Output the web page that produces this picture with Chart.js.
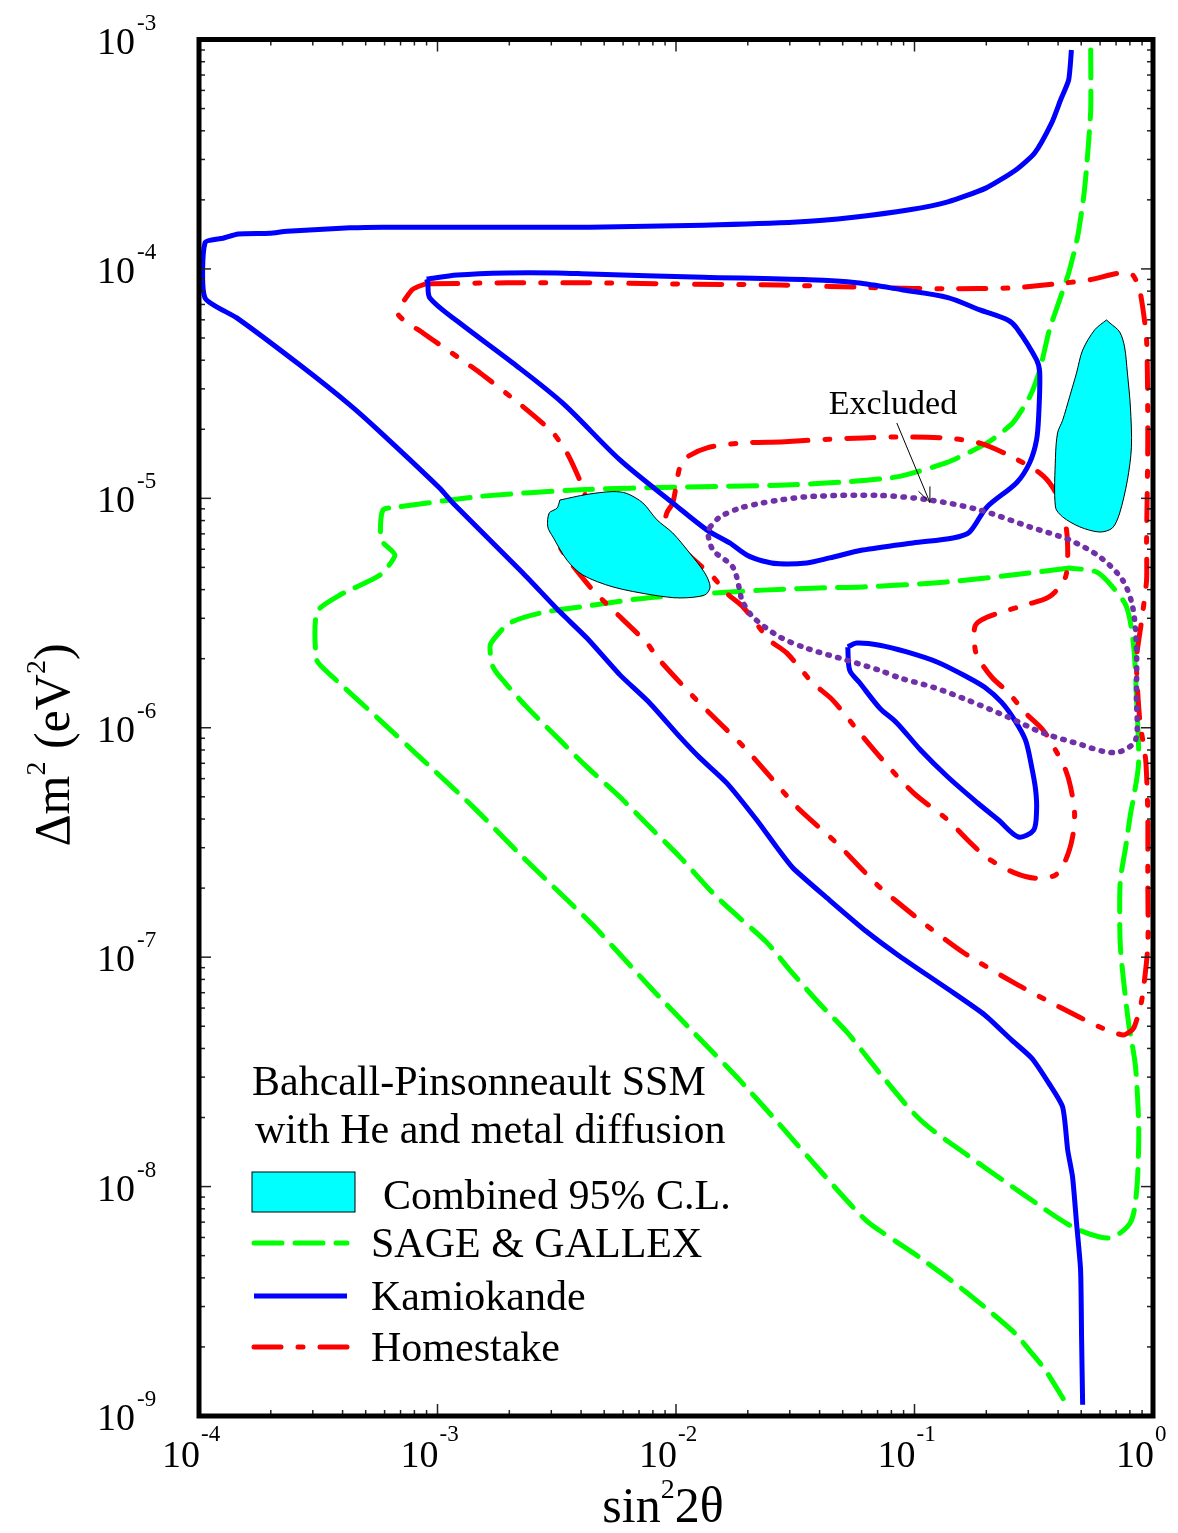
<!DOCTYPE html>
<html>
<head>
<meta charset="utf-8">
<title>MSW solutions</title>
<script src="https://cdn.jsdelivr.net/npm/chart.js@4.4.0/dist/chart.umd.min.js"></script>
<style>
  html, body { margin: 0; padding: 0; background: #fff; }
  canvas { display: block; }
</style>
</head>
<body>
<canvas id="chart" width="1178" height="1533"></canvas>
<script>
// axis decades and their exponent labels
var xDecades = [1e-4, 1e-3, 1e-2, 1e-1, 1];
var xExp = ['-4', '-3', '-2', '-1', '0'];
var yDecades = [1e-3, 1e-4, 1e-5, 1e-6, 1e-7, 1e-8, 1e-9];
var yExp = ['-3', '-4', '-5', '-6', '-7', '-8', '-9'];

// Kamiokande (solid blue)
var kamOuterX = [0.455,0.443,0.41,0.376,0.319,0.266,0.199,0.138,0.0953,0.0556,0.0321,0.013,0.00435,0.00269,5.9e-4,4.3e-4,2.34e-4,1.98e-4,1.46e-4,1.26e-4,1.06e-4,1.06e-4,1.44e-4,2.65e-4,4.3e-4,5.74e-4,1.02e-3,1.16e-3,2.28e-3,3.26e-3,4.23e-3,5.82e-3,7.77e-3,1.04e-2,1.26e-2,1.63e-2,2.18e-2,2.64e-2,3.09e-2,4.41e-2,6.31e-2,8.66e-2,0.14,0.197,0.255,0.31,0.365,0.418,0.439,0.46,0.478,0.497,0.502,0.507];
var kamOuterY = [9.0e-4,6.67e-4,5.46e-4,4.33e-4,3.2e-4,2.7e-4,2.25e-4,1.96e-4,1.81e-4,1.68e-4,1.6e-4,1.55e-4,1.52e-4,1.52e-4,1.52e-4,1.51e-4,1.46e-4,1.43e-4,1.42e-4,1.36e-4,1.3e-4,7.47e-5,6.12e-5,3.81e-5,2.55e-5,1.95e-5,1.11e-5,9.55e-6,4.73e-6,3.2e-6,2.46e-6,1.7e-6,1.28e-6,9.1e-7,7.39e-7,5.75e-7,3.96e-7,3.02e-7,2.45e-7,1.77e-7,1.29e-7,1.01e-7,7.19e-8,5.6e-8,4.36e-8,3.63e-8,2.83e-8,2.22e-8,1.44e-8,1.1e-8,6.93e-9,4.33e-9,2.14e-9,1.12e-9];
var kamInnerX = [9.0e-4,1.21e-3,1.95e-3,3.17e-3,4.35e-3,1.3e-2,3.6e-2,5.72e-2,8.94e-2,0.138,0.188,0.246,0.268,0.325,0.335,0.332,0.325,0.304,0.268,0.201,0.17,0.145,9.84e-2,6.06e-2,4.41e-2,3.53e-2,2.72e-2,2.31e-2,1.98e-2,1.68e-2,1.35e-2,9.69e-3,5.82e-3,3.35e-3,2.07e-3,1.24e-3,9.29e-4,9.1e-4];
var kamInnerY = [9.03e-5,9.4e-5,9.6e-5,9.6e-5,9.5e-5,9.2e-5,8.96e-5,8.7e-5,8.1e-5,7.5e-5,6.63e-5,5.99e-5,5.53e-5,4.01e-5,3.52e-5,2.35e-5,1.8e-5,1.43e-5,1.17e-5,9.15e-6,7.13e-6,6.72e-6,6.39e-6,5.95e-6,5.5e-6,5.23e-6,5.18e-6,5.33e-6,5.66e-6,6.39e-6,7.27e-6,9.55e-6,1.47e-5,2.6e-5,3.89e-5,5.81e-5,7.47e-5,8.77e-5];
var kamSmallX = [5.25e-2,5.72e-2,7.14e-2,9.28e-2,0.125,0.167,0.197,0.232,0.263,0.292,0.31,0.322,0.325,0.316,0.273,0.225,0.184,0.138,0.106,8.43e-2,7.14e-2,5.89e-2,5.35e-2];
var kamSmallY = [2.25e-6,2.34e-6,2.29e-6,2.14e-6,1.93e-6,1.66e-6,1.5e-6,1.29e-6,1.08e-6,8.83e-7,6.75e-7,5.36e-7,4.38e-7,3.58e-7,3.34e-7,3.96e-7,4.7e-7,6.1e-7,8.0e-7,1.05e-6,1.22e-6,1.57e-6,1.78e-6];

// Combined 95% C.L. (cyan regions)
var clAX = [3.26e-3,4.23e-3,5.44e-3,6.22e-3,7.26e-3,8.32e-3,9.69e-3,1.14e-2,1.32e-2,1.39e-2,1.32e-2,1.04e-2,7.99e-3,5.44e-3,4.07e-3,3.49e-3,3.05e-3,2.9e-3,2.94e-3,3.17e-3];
var clAY = [9.83e-6,1.04e-5,1.07e-5,1.05e-5,9.55e-6,8.06e-6,7.06e-6,5.78e-6,4.73e-6,4.11e-6,3.79e-6,3.68e-6,3.79e-6,4.11e-6,4.63e-6,5.38e-6,6.78e-6,7.51e-6,8.63e-6,9.06e-6];
var clBX = [0.638,0.57,0.507,0.478,0.447,0.418,0.398,0.39,0.39,0.418,0.493,0.598,0.676,0.725,0.781,0.812,0.804,0.781,0.76,0.725,0.66];
var clBY = [5.99e-5,5.43e-5,4.43e-5,3.52e-5,2.77e-5,2.19e-5,1.93e-5,1.51e-5,9.15e-6,8.3e-6,7.51e-6,7.13e-6,7.43e-6,8.63e-6,1.2e-5,1.67e-5,2.5e-5,3.52e-5,4.57e-5,5.31e-5,5.81e-5];

// Excluded region (dotted purple)
var exclX = [1.39e-2,1.53e-2,1.85e-2,2.31e-2,2.72e-2,3.74e-2,7.14e-2,0.116,0.188,0.304,0.447,0.598,0.746,0.822,0.852,0.852,0.845,0.725,0.616,0.507,0.345,0.248,0.167,0.12,8.66e-2,7.14e-2,5.2e-2,3.53e-2,2.72e-2,2.1e-2,1.89e-2,1.85e-2,1.73e-2,1.43e-2,1.36e-2];
var exclY = [7.51e-6,8.3e-6,9.06e-6,9.55e-6,9.83e-6,1.02e-5,1.03e-5,9.83e-6,8.89e-6,7.51e-6,6.58e-6,5.56e-6,4.4e-6,3.36e-6,2.25e-6,1.36e-6,8.83e-7,7.85e-7,7.9e-7,8.4e-7,9.5e-7,1.11e-6,1.32e-6,1.5e-6,1.65e-6,1.78e-6,1.97e-6,2.22e-6,2.49e-6,3.04e-6,3.6e-6,3.98e-6,5.02e-6,5.95e-6,7.06e-6];

// SAGE & GALLEX (dashed green)
var sageOuterX = [0.548,0.548,0.527,0.512,0.483,0.443,0.406,0.368,0.335,0.304,0.258,0.201,0.136,8.43e-2,5.2e-2,2.72e-2,1.04e-2,3.95e-3,1.51e-3,6.76e-4,5.9e-4,5.8e-4,6.63e-4,5.74e-4,3.9e-4,3.12e-4,3.12e-4,3.65e-4,5.57e-4,8.69e-4,1.41e-3,2.28e-3,2.96e-3,4.48e-3,7.99e-3,1.18e-2,1.85e-2,2.64e-2,4.12e-2,6.31e-2,9.9e-2,0.142,0.197,0.263,0.31,0.355,0.431];
var sageOuterY = [9.0e-4,4.93e-4,2.78e-4,2.06e-4,1.38e-4,9.6e-5,7.33e-5,5.43e-5,3.62e-5,2.77e-5,2.13e-5,1.74e-5,1.43e-5,1.24e-5,1.18e-5,1.14e-5,1.12e-5,1.09e-5,1.02e-5,9.15e-6,8.89e-6,6.58e-6,5.66e-6,4.63e-6,3.79e-6,3.2e-6,1.97e-6,1.66e-6,1.11e-6,7.23e-7,4.52e-7,2.73e-7,2.1e-7,1.38e-7,7.19e-8,4.72e-8,2.91e-8,1.93e-8,1.14e-8,7.07e-9,5.13e-9,3.91e-9,2.98e-9,2.3e-9,1.88e-9,1.58e-9,1.14e-9];
var sageInnerX = [0.447,0.304,0.136,6.06e-2,3.74e-2,2.31e-2,1.43e-2,7.56e-3,3.95e-3,2.69e-3,2.01e-3,1.71e-3,1.66e-3,1.71e-3,1.92e-3,2.37e-3,3.26e-3,4.23e-3,5.82e-3,7.77e-3,1.04e-2,1.43e-2,1.85e-2,2.4e-2,3.0e-2,4.01e-2,5.2e-2,7.14e-2,0.106,0.162,0.281,0.46,0.598,0.683,0.806,0.852,0.87,0.87,0.845,0.812,0.79,0.752,0.73,0.725,0.73,0.768,0.806,0.83,0.87,0.852,0.83,0.775,0.676,0.58];
var sageInnerY = [4.97e-6,4.73e-6,4.32e-6,4.11e-6,4.06e-6,3.98e-6,3.86e-6,3.68e-6,3.36e-6,3.16e-6,2.86e-6,2.41e-6,2.25e-6,1.84e-6,1.57e-6,1.23e-6,8.83e-7,6.75e-7,4.99e-7,3.69e-7,2.73e-7,1.9e-7,1.48e-7,1.16e-7,8.79e-8,6.25e-8,4.72e-8,3.13e-8,1.95e-8,1.4e-8,9.37e-9,6.67e-9,6.03e-9,6.03e-9,7.0e-9,9.37e-9,1.44e-8,1.95e-8,3.32e-8,4.36e-8,5.16e-8,7.96e-8,1.11e-7,1.56e-7,2.17e-7,3.02e-7,4.25e-7,4.99e-7,7.02e-7,1.36e-6,2.25e-6,3.36e-6,4.11e-6,4.77e-6];

// Homestake (dash-dot red)
var homeOuterX = [8.87e-4,7.82e-4,6.83e-4,8.69e-4,1.51e-3,2.37e-3,3.05e-3,3.49e-3,3.95e-3,4.15e-3,3.52e-3,3.1e-3,3.49e-3,4.48e-3,5.44e-3,7.56e-3,8.32e-3,1.22e-2,1.98e-2,3.21e-2,4.72e-2,7.14e-2,0.109,0.162,0.263,0.406,0.598,0.752,0.83,0.897,0.951,0.951,0.951,0.932,0.88,0.852,0.897,0.94,0.94,0.951,0.94,0.88,0.822,0.725,0.543,0.434,0.258,0.136,7.14e-2,2.72e-2,8.97e-3,4.35e-3,1.95e-3];
var homeOuterY = [8.6e-5,8.1e-5,6.36e-5,5.26e-5,3.52e-5,2.43e-5,1.93e-5,1.58e-5,1.2e-5,1.03e-5,8.44e-6,6.92e-6,5.5e-6,3.98e-6,3.26e-6,2.34e-6,2.03e-6,1.32e-6,8.0e-7,4.52e-7,3.14e-7,2.02e-7,1.41e-7,1.04e-7,7.7e-8,6.06e-8,4.96e-8,4.58e-8,4.91e-8,6.49e-8,1.11e-7,2.17e-7,4.25e-7,7.23e-7,1.08e-6,1.97e-6,2.95e-6,4.4e-6,6.58e-6,1.8e-5,4.9e-5,8.1e-5,9.4e-5,9.6e-5,8.96e-5,8.7e-5,8.27e-5,8.19e-5,8.27e-5,8.51e-5,8.6e-5,8.7e-5,8.7e-5];
var homeInnerX = [2.72e-2,1.85e-2,1.35e-2,1.11e-2,1.04e-2,1.01e-2,9.69e-3,9.15e-3,8.97e-3,9.41e-3,1.14e-2,1.43e-2,1.63e-2,1.91e-2,2.47e-2,2.91e-2,3.74e-2,4.54e-2,5.89e-2,7.36e-2,9.9e-2,0.138,0.167,0.203,0.263,0.322,0.39,0.43,0.46,0.469,0.451,0.43,0.39,0.345,0.292,0.248,0.211,0.184,0.179,0.179,0.191,0.225,0.292,0.365,0.418,0.434,0.439,0.434,0.414,0.379,0.335,0.258,0.188,0.136,8.43e-2,4.41e-2];
var homeInnerY = [1.76e-5,1.74e-5,1.66e-5,1.51e-5,1.37e-5,1.2e-5,9.55e-6,8.63e-6,7.51e-6,6.78e-6,5.61e-6,4.54e-6,3.86e-6,3.36e-6,2.41e-6,2.12e-6,1.57e-6,1.32e-6,9.5e-7,7.23e-7,5.2e-7,3.96e-7,3.24e-7,2.7e-7,2.33e-7,2.21e-7,2.28e-7,2.65e-7,3.34e-7,4.25e-7,5.53e-7,6.55e-7,8.0e-7,9.8e-7,1.16e-6,1.42e-6,1.66e-6,2.03e-6,2.25e-6,2.75e-6,2.95e-6,3.16e-6,3.43e-6,3.71e-6,4.27e-6,4.73e-6,5.78e-6,7.27e-6,9.15e-6,1.12e-5,1.29e-5,1.51e-5,1.74e-5,1.83e-5,1.85e-5,1.81e-5];

var FONT = '"Liberation Serif", "Times New Roman", serif';
var BLUE = '#0000ff', GREEN = '#00ff00', RED = '#ff0000', CYAN = '#00ffff', PURPLE = '#7030a8';
var greenDash = [28, 13];
var redDash = [27, 17, 5, 17];

function zip(xs, ys, closed) {
    var out = xs.map(function (x, i) { return {x: x, y: ys[i]}; });
    if (closed) out.push({x: xs[0], y: ys[0]});
    return out;
}

function curve(data, color, dash, extra) {
    var ds = {
        data: data, showLine: true, borderColor: color, borderWidth: 5,
        borderDash: dash || [], borderCapStyle: dash ? 'round' : 'butt',
        borderJoinStyle: 'round', pointRadius: 0, tension: 0.2, fill: false
    };
    for (var k in extra) ds[k] = extra[k];
    return ds;
}

// superscript text runs: [{t, size, up}]
function runWidth(c, parts) {
    var w = 0;
    parts.forEach(function (p) { c.font = p.size + 'px ' + FONT; w += c.measureText(p.t).width; });
    return w;
}
function drawRuns(c, parts, x, y) {
    var cx = x;
    c.textAlign = 'left';
    parts.forEach(function (p) {
        c.font = p.size + 'px ' + FONT;
        c.fillText(p.t, cx, y - (p.up || 0));
        cx += c.measureText(p.t).width;
    });
}

var decor = {
    id: 'decor',
    afterDraw: function (chart) {
        var c = chart.ctx, a = chart.chartArea;
        var xs = chart.scales.x, ys = chart.scales.y;
        c.save();

        // inward ticks on all four sides
        c.strokeStyle = '#222';
        c.lineWidth = 1.5;
        function seg(x1, y1, x2, y2) { c.beginPath(); c.moveTo(x1, y1); c.lineTo(x2, y2); c.stroke(); }
        for (var d = -4; d < 0; d++) {
            for (var k = 1; k < 10; k++) {
                var px = xs.getPixelForValue(k * Math.pow(10, d));
                var len = k === 1 ? 12 : 6;
                seg(px, a.bottom, px, a.bottom - len);
                seg(px, a.top, px, a.top + len);
            }
        }
        for (var e = -9; e < -3; e++) {
            for (var m = 1; m < 10; m++) {
                var py = ys.getPixelForValue(m * Math.pow(10, e));
                var l2 = m === 1 ? 12 : 6;
                seg(a.left, py, a.left + l2, py);
                seg(a.right, py, a.right - l2, py);
            }
        }

        // frame
        c.strokeStyle = '#000';
        c.lineWidth = 5;
        c.strokeRect(a.left, a.top, a.right - a.left, a.bottom - a.top);

        // tick labels
        c.fillStyle = '#000';
        c.textBaseline = 'alphabetic';
        xDecades.forEach(function (v, i) {
            var px = xs.getPixelForValue(v);
            c.font = '38px ' + FONT;
            c.textAlign = 'right';
            c.fillText('10', px + 1, a.bottom + 51);
            c.font = '23px ' + FONT;
            c.textAlign = 'left';
            c.fillText(xExp[i], px + 2, a.bottom + 25);
        });
        yDecades.forEach(function (v, i) {
            var py = ys.getPixelForValue(v);
            c.font = '38px ' + FONT;
            c.textAlign = 'right';
            c.fillText('10', a.left - 64, py + 14);
            c.font = '23px ' + FONT;
            c.textAlign = 'left';
            c.fillText(yExp[i], a.left - 62, py - 10);
        });

        // axis titles
        var xt = [{t: 'sin', size: 50}, {t: '2', size: 28, up: 24}, {t: '2\u03b8', size: 50}];
        drawRuns(c, xt, 663 - runWidth(c, xt) / 2, a.bottom + 106);
        var yt = [{t: '\u0394m', size: 50}, {t: '2', size: 28, up: 24}, {t: ' (eV', size: 50},
                  {t: '2', size: 28, up: 24}, {t: ')', size: 50}];
        c.save();
        c.translate(69, 745);
        c.rotate(-Math.PI / 2);
        drawRuns(c, yt, -runWidth(c, yt) / 2, 0);
        c.restore();

        // "Excluded" annotation with arrow
        c.font = '34px ' + FONT;
        c.textAlign = 'left';
        c.fillText('Excluded', xs.getPixelForValue(4.37e-2), ys.getPixelForValue(2.33e-5));
        var tx = xs.getPixelForValue(8.43e-2), ty = ys.getPixelForValue(2.13e-5);
        var hx = xs.getPixelForValue(0.116), hy = ys.getPixelForValue(9.6e-6);
        c.strokeStyle = '#000';
        c.lineWidth = 1;
        seg(tx, ty, hx, hy);
        var ang = Math.atan2(hy - ty, hx - tx);
        seg(hx, hy, hx - 16 * Math.cos(ang - 0.4), hy - 16 * Math.sin(ang - 0.4));
        seg(hx, hy, hx - 16 * Math.cos(ang + 0.4), hy - 16 * Math.sin(ang + 0.4));

        // legend block
        var L = a.left;
        c.fillStyle = '#000';
        c.font = '42px ' + FONT;
        c.fillText('Bahcall-Pinsonneault SSM', L + 53, 1095);
        c.fillText('with He and metal diffusion', L + 56, 1143);
        c.fillStyle = CYAN;
        c.fillRect(L + 53, 1172, 103, 40);
        c.strokeStyle = '#000';
        c.lineWidth = 1;
        c.strokeRect(L + 53, 1172, 103, 40);
        c.fillStyle = '#000';
        c.fillText('Combined 95% C.L.', L + 184, 1209);
        var items = [
            {label: 'SAGE & GALLEX', color: GREEN, dash: greenDash, y: 1243},
            {label: 'Kamiokande', color: BLUE, dash: [], y: 1296},
            {label: 'Homestake', color: RED, dash: redDash, y: 1347}
        ];
        items.forEach(function (it) {
            c.strokeStyle = it.color;
            c.lineWidth = 5;
            c.lineCap = it.dash.length ? 'round' : 'butt';
            c.setLineDash(it.dash);
            seg(L + 55, it.y, L + 148, it.y);
            c.setLineDash([]);
            c.fillStyle = '#000';
            c.fillText(it.label, L + 172, it.y + 14);
        });
        c.restore();
    }
};

var ctx = document.getElementById('chart').getContext('2d');
var chart = new Chart(ctx, {
    type: 'scatter',
    data: {
        datasets: [
            {data: zip(clAX, clAY, true), showLine: true, fill: 'shape', backgroundColor: CYAN,
             borderColor: '#000', borderWidth: 1, pointRadius: 0, tension: 0.3},
            {data: zip(clBX, clBY, true), showLine: true, fill: 'shape', backgroundColor: CYAN,
             borderColor: '#000', borderWidth: 1, pointRadius: 0, tension: 0.3},
            curve(zip(exclX, exclY, true), PURPLE, [1.5, 8.5], {tension: 0.3, borderWidth: 5.5}),
            curve(zip(kamOuterX, kamOuterY, false), BLUE, null),
            curve(zip(kamInnerX, kamInnerY, true), BLUE, null, {tension: 0.3}),
            curve(zip(kamSmallX, kamSmallY, true), BLUE, null, {tension: 0.3}),
            curve(zip(homeOuterX, homeOuterY, true), RED, redDash),
            curve(zip(homeInnerX, homeInnerY, true), RED, redDash, {tension: 0.3}),
            curve(zip(sageOuterX, sageOuterY, false), GREEN, greenDash),
            curve(zip(sageInnerX, sageInnerY, true), GREEN, greenDash, {tension: 0.3})
        ]
    },
    options: {
        responsive: false,
        animation: false,
        devicePixelRatio: 1,
        layout: {padding: {left: 199, right: 25, top: 39.5, bottom: 117}},
        scales: {
            x: {type: 'logarithmic', min: 1e-4, max: 1, display: false},
            y: {type: 'logarithmic', min: 1e-9, max: 1e-3, display: false}
        },
        plugins: {
            legend: {display: false},
            tooltip: {enabled: false}
        }
    },
    plugins: [decor]
});
</script>
</body>
</html>
